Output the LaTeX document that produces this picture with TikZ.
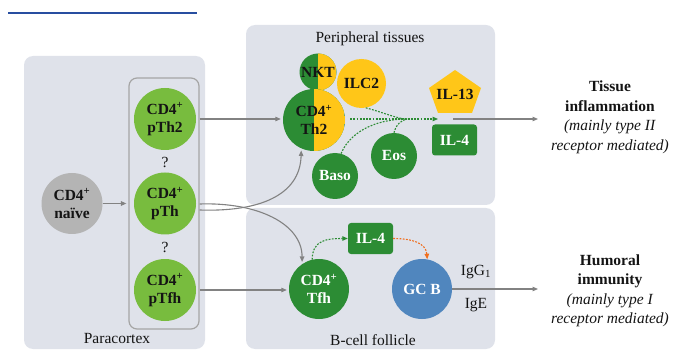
\documentclass[tikz,border=0pt]{standalone}
\usepackage{fontspec}
\setmainfont{Liberation Serif}
\usetikzlibrary{arrows.meta,calc}

\definecolor{panel}{RGB}{223,226,234}
\definecolor{lgreen}{RGB}{120,188,62}
\definecolor{dgreen}{RGB}{44,140,52}
\definecolor{cyellow}{RGB}{255,198,24}
\definecolor{naivegray}{RGB}{180,180,180}
\definecolor{gcblue}{RGB}{80,134,190}
\definecolor{linkgray}{RGB}{130,130,130}
\definecolor{boxgray}{RGB}{165,165,165}
\definecolor{signalorange}{RGB}{240,110,30}
\definecolor{rulerblue}{RGB}{40,78,160}
\definecolor{inktext}{RGB}{20,20,20}

\begin{document}
\begin{tikzpicture}[x=1pt,y=-1pt,
  cell/.style={circle, inner sep=0pt, align=center, text=inktext,
    font=\bfseries\fontsize{15.5}{18}\selectfont},
  split/.style={cell, fill=dgreen,
    path picture={\fill[cyellow] (path picture bounding box.north)
      rectangle (path picture bounding box.south east);}},
  lbl/.style={inner sep=0pt, align=center, text=inktext,
    font=\fontsize{15.5}{19.5}\selectfont},
  cytokine/.style={rectangle, rounded corners=3pt, fill=dgreen, text=white,
    minimum width=45pt, minimum height=31pt, inner sep=0pt,
    font=\bfseries\fontsize{15.5}{18}\selectfont},
  panelbox/.style={fill=panel, rounded corners=9pt},
  link/.style={draw=linkgray, line width=1.1pt, shorten >=2pt,
    -{Triangle[length=5.5pt,width=4.5pt]}},
  sigline/.style={draw=dgreen, line width=1.1pt, dash pattern=on 1.8pt off 1.4pt},
  sig/.style={sigline, -{Triangle[length=5.5pt,width=4.5pt]}},
]
\useasboundingbox (0,0) rectangle (678,350);

% heading rule
\draw[rulerblue, line width=2.2pt] (8,13) -- (197,13);

% compartments
\fill[panelbox] (24,56) rectangle (205,349);
\fill[panelbox] (246,25) rectangle (495,205);
\fill[panelbox] (246,208) rectangle (495,349);

\node[lbl] (paralbl) at (117,339) {Paracortex};
\node[lbl] (perilbl) at (370,39) {Peripheral tissues};
\node[lbl] (follbl) at (373,340) {B-cell follicle};

% precursor group
\node[draw=boxgray, line width=1.2pt, rounded corners=8pt,
  minimum width=70pt, minimum height=251pt] (grp) at (164,203.5) {};

\node[cell, fill=naivegray, minimum size=61pt] (naive) at (72,203.5) {CD4\textsuperscript{+}\\naïve};
\node[cell, fill=lgreen, minimum size=62pt] (pth2) at (165,119) {CD4\textsuperscript{+}\\pTh2};
\node[cell, fill=lgreen, minimum size=62pt] (pth) at (165,203.5) {CD4\textsuperscript{+}\\pTh};
\node[cell, fill=lgreen, minimum size=62pt] (ptfh) at (165,290) {CD4\textsuperscript{+}\\pTfh};
\node[lbl] (q1) at (165,162) {?};
\node[lbl] (q2) at (165,247) {?};

% peripheral tissues
\node[split, minimum size=37pt] (nkt) at (318,72) {NKT};
\node[cell, fill=cyellow, minimum size=49pt] (ilc2) at (361.5,83.5) {ILC2};
\node[split, minimum size=62pt] (th2) at (314,120) {CD4\textsuperscript{+}\\Th2};
\node[cell, fill=dgreen, text=white, minimum size=46pt] (baso) at (335,176) {Baso};
\node[cell, fill=dgreen, text=white, minimum size=46pt] (eos) at (394,156) {Eos};

\fill[cyellow] (455,70) -- (481,88) -- (472,113) -- (438,113) -- (429,88) -- cycle;
\node[cell] (il13) at (455,94) {IL-13};
\node[cytokine] (il4t) at (454.5,140) {IL-4};

\coordinate (hub) at (407,119);
\coordinate (sigend) at (438,119);
\coordinate (ilgap) at (453,119);
\coordinate (tissuein) at (540,119);

\draw[sig] ($(th2.east)+(5,-1)$) -- (sigend);
\draw[sigline] (ilc2.-80) .. controls (385,113) and (398,119) .. (hub);
\draw[sigline] (baso.75) .. controls (352,128) and (382,119) .. (hub);
\draw[sigline] (eos.north) .. controls (396,124) and (402,120) .. (hub);

\draw[link] (ilgap) -- (tissuein);
\node[lbl] (tissue) at (610,117.5)
  {\textbf{Tissue}\\\textbf{inflammation}\\\textit{(mainly type II}\\\textit{receptor mediated)}};

% B-cell follicle
\node[cell, fill=dgreen, text=white, minimum size=60pt] (tfh) at (319,289) {CD4\textsuperscript{+}\\Tfh};
\node[cytokine] (il4b) at (370.5,238.5) {IL-4};
\node[cell, fill=gcblue, text=white, minimum size=60pt] (gcb) at (422,289) {GC B};
\node[lbl] (igg) at (476,272) {IgG\textsubscript{1}};
\node[lbl] (ige) at (476,305) {IgE};

\draw[sig] (tfh.103) .. controls ($(tfh.103)+(0,-20)$) and ($(il4b.west)+(-20,0)$) .. (il4b.west);
\draw[sig, draw=signalorange] (il4b.east) .. controls (412,238.5) and (426,243) .. (gcb.80);

\coordinate (humin) at (540,289);
\draw[link] (gcb.east) -- (humin);
\node[lbl] (humoral) at (610,291)
  {\textbf{Humoral}\\\textbf{immunity}\\\textit{(mainly type I}\\\textit{receptor mediated)}};

% differentiation paths
\draw[link] (naive.east) -- (grp.west |- naive);
\draw[link] (grp.east |- pth2) -- (th2.west |- pth2);
\draw[link] (grp.east |- ptfh) -- (tfh.west |- ptfh);
\draw[link] ($(grp.east |- pth)+(0,6.5)$) .. controls (258,212) and (300,196) .. (th2.246);
\draw[link] ($(grp.east |- pth)+(0,0.5)$) .. controls (258,202) and (302,224) .. (tfh.124);
\end{tikzpicture}
\end{document}
